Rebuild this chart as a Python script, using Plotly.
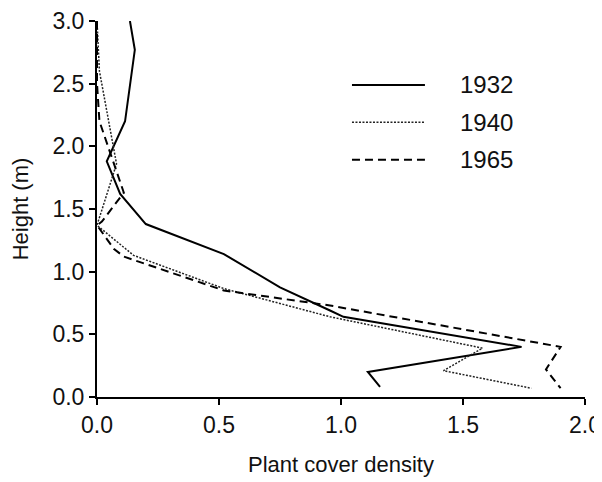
import plotly.graph_objects as go

series_names = ["1932", "1940", "1965"]

h1932 = [3.0, 2.77, 2.2, 1.88, 1.62, 1.38, 1.14, 0.875, 0.69, 0.64, 0.4, 0.2, 0.08]
v1932 = [0.135, 0.155, 0.115, 0.04, 0.095, 0.2, 0.52, 0.75, 0.955, 1.01, 1.74, 1.11, 1.16]

h1940 = [3.0, 2.6, 1.86, 1.43, 1.37, 1.13, 0.865, 0.64, 0.39, 0.21, 0.07]
v1940 = [0.0, 0.01, 0.08, 0.01, 0.0, 0.15, 0.52, 0.955, 1.58, 1.42, 1.78]

h1965 = [3.0, 2.5, 2.2, 1.63, 1.4, 1.37, 1.18, 1.12, 0.85, 0.73, 0.4, 0.22, 0.07]
v1965 = [0.0, 0.0, 0.01, 0.11, 0.02, 0.0, 0.07, 0.11, 0.52, 0.955, 1.9, 1.84, 1.9]

x_ticks = [0.0, 0.5, 1.0, 1.5, 2.0]
y_ticks = [0.0, 0.5, 1.0, 1.5, 2.0, 2.5, 3.0]

styles = [
    dict(color="black", width=2, dash="solid"),
    dict(color="#222222", width=1.5, dash="2px,1.5px"),
    dict(color="black", width=2, dash="8px,5px"),
]

fig = go.Figure()
for name, xs, ys, st in zip(series_names, [v1932, v1940, v1965], [h1932, h1940, h1965], styles):
    fig.add_trace(go.Scatter(x=xs, y=ys, mode="lines", name=name, line=st, showlegend=False))

FONT = "Liberation Sans"

# manual legend
leg_y = [0.83, 0.731, 0.631]
for name, st, yy in zip(series_names, styles, leg_y):
    fig.add_shape(type="line", xref="paper", yref="paper", x0=0.5225, x1=0.672, y0=yy, y1=yy,
                  line=st)
    fig.add_annotation(xref="paper", yref="paper", x=0.74, y=yy, text=name, showarrow=False,
                       xanchor="left", yanchor="middle", font=dict(family=FONT, size=24, color="#111"))

axis_common = dict(showgrid=False, zeroline=False, showline=True, linecolor="black", linewidth=2,
                   ticks="outside", ticklen=6, tickwidth=2, tickcolor="black", automargin=False,
                   ticklabeloverflow="allow",
                   tickfont=dict(family=FONT, size=23, color="#111"))

# page body has an 8px default margin, so margins are shifted to compensate
fig.update_layout(
    width=602, height=482,
    margin=dict(l=89, r=25, t=13, b=93),
    paper_bgcolor="white", plot_bgcolor="white",
    xaxis=dict(range=[0, 2], tickvals=x_ticks, ticktext=[f"{v:.1f}" for v in x_ticks],
               title=dict(text="Plant cover density", font=dict(family=FONT, size=22, color="#111"), standoff=20),
               **axis_common),
    yaxis=dict(range=[0, 3], tickvals=y_ticks, ticktext=[f"{v:.1f}" for v in y_ticks],
               title=dict(text="Height (m)", font=dict(family=FONT, size=22, color="#111"), standoff=26),
               **axis_common),
)

fig.write_html("out.html")
